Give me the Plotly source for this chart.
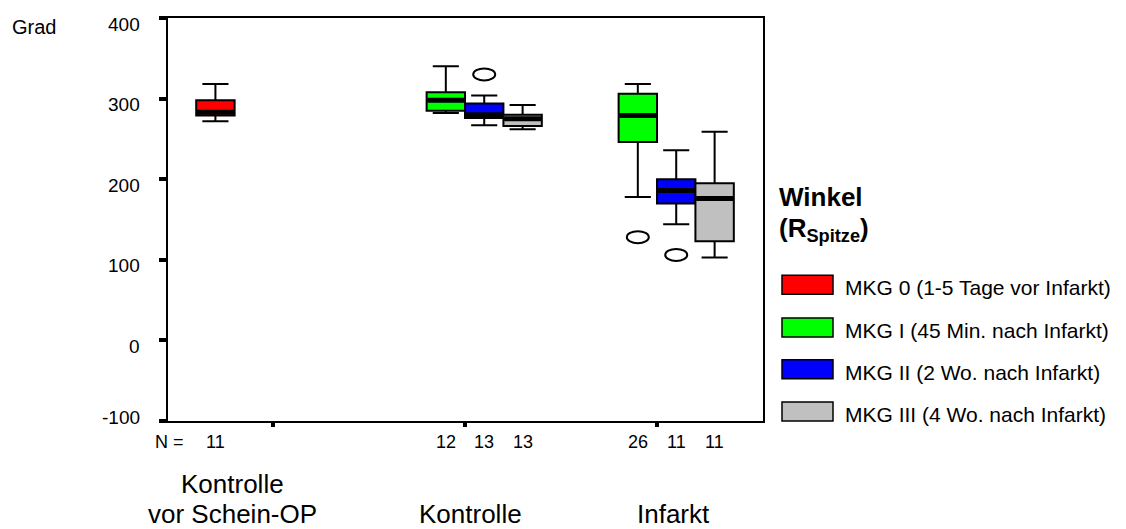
import plotly.graph_objects as go

# ---------------- data ----------------
categories = ["Kontrolle<br>vor Schein-OP", "Kontrolle", "Infarkt"]
series = ["MKG 0 (1-5 Tage vor Infarkt)", "MKG I (45 Min. nach Infarkt)",
          "MKG II (2 Wo. nach Infarkt)", "MKG III (4 Wo. nach Infarkt)"]

# per series: category index, N, whisker low, q1, median, q3, whisker high
mkg0_cat = [0]
mkg0_n = [11]
mkg0_low = [272]
mkg0_q1 = [279]
mkg0_med = [283]
mkg0_q3 = [298]
mkg0_high = [318]

mkg1_cat = [1, 2]
mkg1_n = [12, 26]
mkg1_low = [282, 178]
mkg1_q1 = [285, 246]
mkg1_med = [298, 279]
mkg1_q3 = [308, 306]
mkg1_high = [340, 318]

mkg2_cat = [1, 2]
mkg2_n = [13, 11]
mkg2_low = [267, 144]
mkg2_q1 = [276, 170]
mkg2_med = [280, 186]
mkg2_q3 = [294, 200]
mkg2_high = [304, 236]

mkg3_cat = [1, 2]
mkg3_n = [13, 11]
mkg3_low = [262, 103]
mkg3_q1 = [266, 123]
mkg3_med = [275, 176]
mkg3_q3 = [280, 195]
mkg3_high = [292, 259]

# outliers: (series index, category index, value)
outlier_series = [2, 1, 2]
outlier_cat = [1, 2, 2]
outlier_val = [330, 128, 106]

y_ticks = [-100, 0, 100, 200, 300, 400]

# ---------------- styling / layout ----------------
colors = ["#FF0000", "#00FF00", "#0000FF", "#C0C0C0"]
slot_offset = [-0.3, -0.1, 0.1, 0.3]
box_w = 0.2
FONT = "Liberation Sans, Arial, sans-serif"

W, H = 1126, 529
OFF = 8  # page body margin
# plot frame in screen pixels
SL, SR, ST, SB = 168, 763, 16, 421
L, R, T, B = SL - OFF, SR - OFF, ST - OFF, SB - OFF


def pxx(p):
    return (p - OFF - L) / (R - L)


def pxy(p):
    return (B - (p - OFF)) / (B - T)


data = [
    (mkg0_cat, mkg0_n, mkg0_low, mkg0_q1, mkg0_med, mkg0_q3, mkg0_high),
    (mkg1_cat, mkg1_n, mkg1_low, mkg1_q1, mkg1_med, mkg1_q3, mkg1_high),
    (mkg2_cat, mkg2_n, mkg2_low, mkg2_q1, mkg2_med, mkg2_q3, mkg2_high),
    (mkg3_cat, mkg3_n, mkg3_low, mkg3_q1, mkg3_med, mkg3_q3, mkg3_high),
]

fig = go.Figure()
annotations = []
shapes = []

for s, (cat, n, lo, q1, med, q3, hi) in enumerate(data):
    xs = [c + slot_offset[s] for c in cat]
    fig.add_trace(go.Box(
        x=xs, q1=q1, median=med, q3=q3, lowerfence=lo, upperfence=hi,
        width=box_w, whiskerwidth=0.68, fillcolor=colors[s],
        line=dict(color="black", width=2), boxpoints=False,
        name=series[s], showlegend=False, hoverinfo="skip"))
    # thick median line
    fig.add_trace(go.Box(
        x=xs, q1=med, median=med, q3=med, lowerfence=med, upperfence=med,
        width=box_w * 0.96, whiskerwidth=0, fillcolor="black",
        line=dict(color="black", width=5), boxpoints=False,
        showlegend=False, hoverinfo="skip"))
    for xv, nv in zip(xs, n):
        annotations.append(dict(x=xv, y=pxy(442), xref="x", yref="paper",
                                text=str(nv), showarrow=False,
                                font=dict(size=18, color="black", family=FONT),
                                xanchor="center", yanchor="middle"))

# outliers as small ellipses
for s, c, v in zip(outlier_series, outlier_cat, outlier_val):
    shapes.append(dict(type="circle", xref="x", yref="y",
                       xsizemode="pixel", ysizemode="pixel",
                       xanchor=c + slot_offset[s], yanchor=v,
                       x0=-11, x1=11, y0=-6, y1=6,
                       line=dict(color="black", width=2), fillcolor="white"))

# y tick labels (SPSS style: sitting just below each tick, last one kept inside)
for i, v in enumerate(y_ticks):
    annotations.append(dict(x=pxx(142), y=v, xref="paper", yref="y",
                            text=str(v), showarrow=False, xanchor="right", yanchor="middle",
                            yshift=(4 if i == 0 else -6),
                            font=dict(size=19, color="black", family=FONT)))

# N =
annotations.append(dict(x=pxx(186), y=pxy(442), xref="paper", yref="paper",
                        text="N =", showarrow=False, xanchor="right", yanchor="middle",
                        font=dict(size=18, color="black", family=FONT)))

# category labels (bottom aligned, one annotation per line)
cat_px = [232, 470, 673]
for cx, lab in zip(cat_px, categories):
    lines = lab.split("<br>")
    for k, line in enumerate(reversed(lines)):
        annotations.append(dict(x=pxx(cx), y=pxy(514.5 - 30.5 * k), xref="paper", yref="paper",
                                text=line, showarrow=False, xanchor="center", yanchor="middle",
                                font=dict(size=26, color="black", family=FONT)))

# y-axis title
annotations.append(dict(x=pxx(10), y=pxy(25), xref="paper", yref="paper",
                        text="Grad", showarrow=False, xanchor="left", yanchor="middle",
                        font=dict(size=20, color="black", family=FONT)))

# legend title
annotations.append(dict(x=pxx(777), y=pxy(196), xref="paper", yref="paper",
                        text="<b>Winkel</b>", showarrow=False,
                        xanchor="left", yanchor="middle", align="left",
                        font=dict(size=26, color="black", family=FONT)))
annotations.append(dict(x=pxx(777), y=pxy(229), xref="paper", yref="paper",
                        text="<b>(R<sub>Spitze</sub>)</b>", showarrow=False,
                        xanchor="left", yanchor="middle", align="left",
                        font=dict(size=26, color="black", family=FONT)))

# legend items
row_y = [284, 327, 369, 411.5]
for s in range(4):
    shapes.append(dict(type="rect", xref="paper", yref="paper",
                       x0=pxx(782), x1=pxx(833), y0=pxy(row_y[s] - 9.5), y1=pxy(row_y[s] + 9.5),
                       line=dict(color="black", width=1.5), fillcolor=colors[s]))
    annotations.append(dict(x=pxx(843), y=pxy(row_y[s] + 3), xref="paper", yref="paper",
                            text=series[s], showarrow=False, xanchor="left", yanchor="middle",
                            font=dict(size=21, color="black", family=FONT)))

fig.update_layout(
    width=W, height=H,
    margin=dict(l=L, r=W - R, t=T, b=H - B, pad=0),
    paper_bgcolor="white", plot_bgcolor="white",
    boxmode="overlay",
    showlegend=False,
    annotations=annotations, shapes=shapes,
    font=dict(family=FONT, color="black"),
)
fig.update_xaxes(range=[-0.547, 2.552], tickvals=[0, 1, 2], showticklabels=False,
                 ticks="outside", ticklen=4, tickwidth=4, tickcolor="black",
                 showline=True, linecolor="black", linewidth=2, mirror=True,
                 showgrid=False, zeroline=False)
fig.update_yaxes(range=[-100, 400], tickvals=y_ticks, showticklabels=False,
                 ticks="outside", ticklen=7, tickwidth=4, tickcolor="black",
                 showline=True, linecolor="black", linewidth=2, mirror=True,
                 showgrid=False, zeroline=False)

fig.write_html("out.html")
